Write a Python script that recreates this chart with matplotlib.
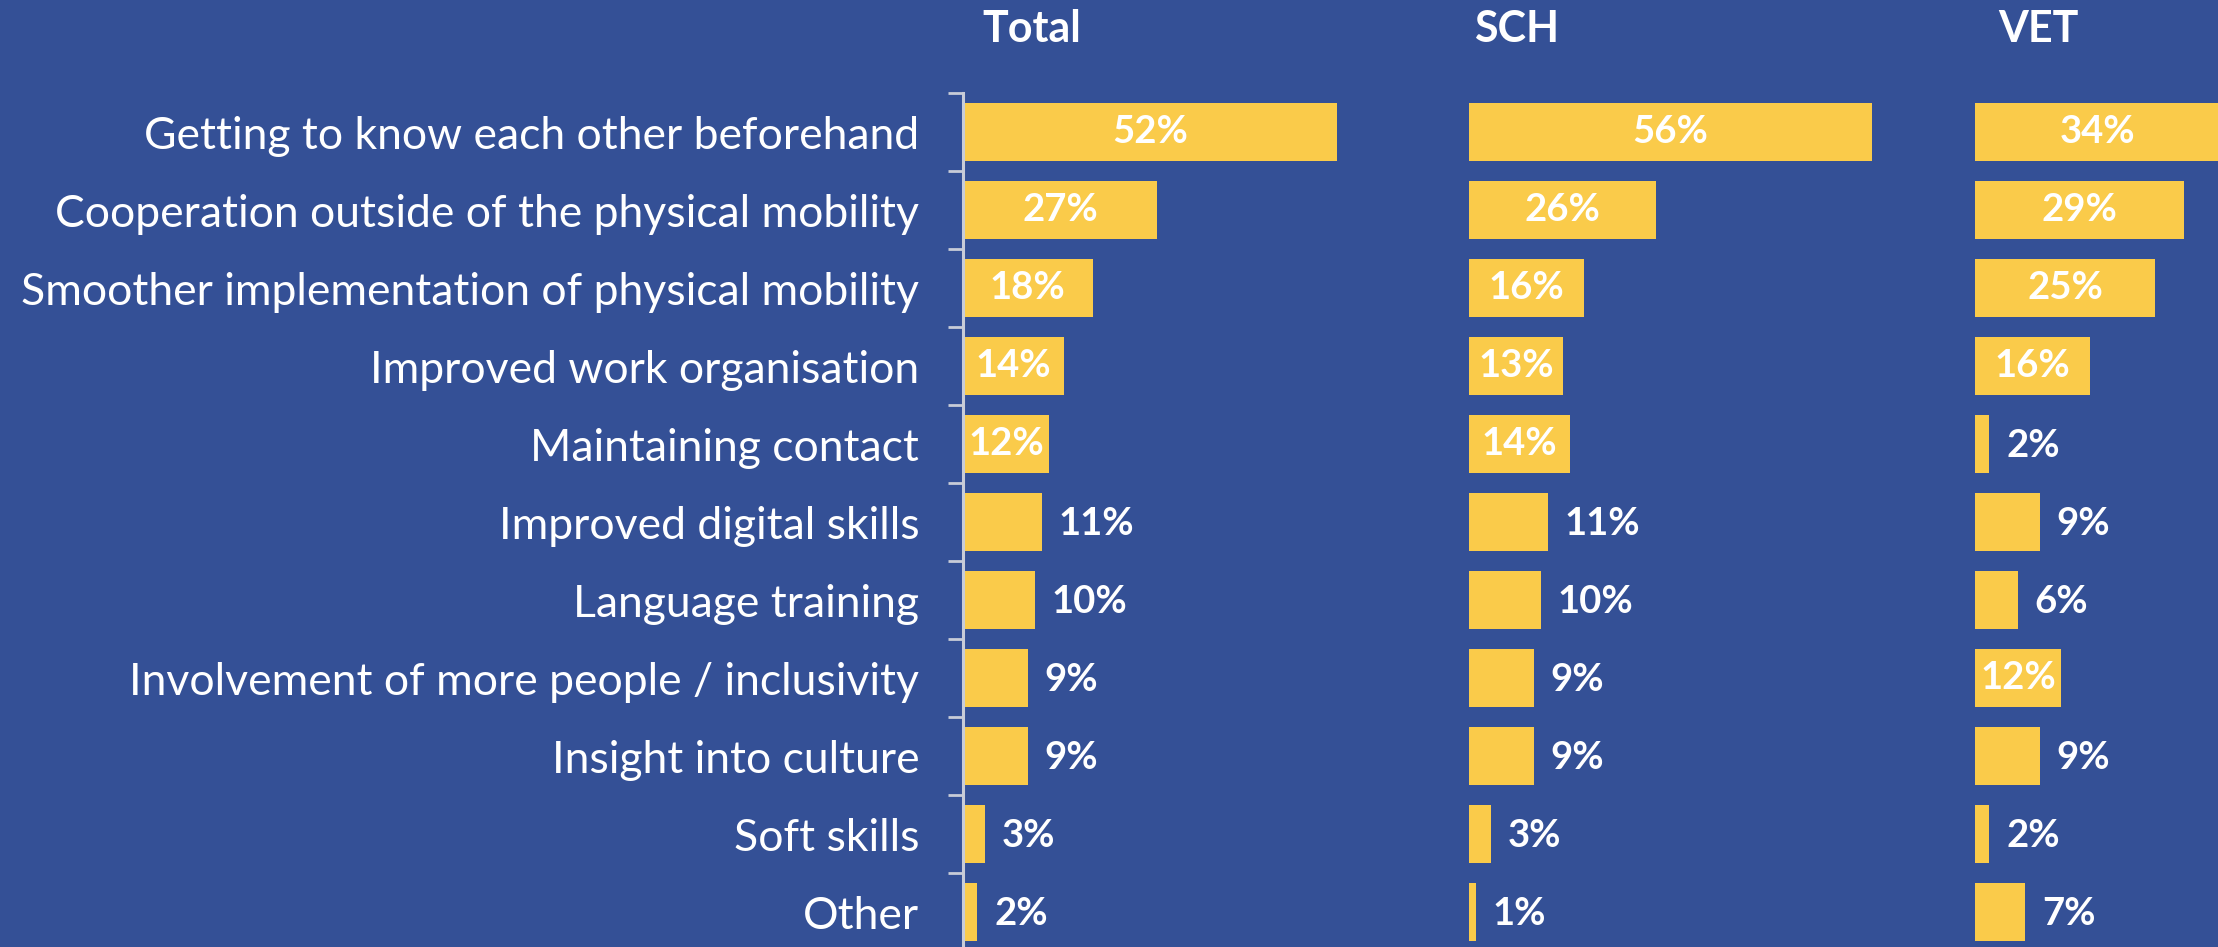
import matplotlib.pyplot as plt
import numpy as np

# Benefits of the virtual component, share of respondents per group
categories = ['Getting to know each other beforehand',
              'Cooperation outside of the physical mobility',
              'Smoother implementation of physical mobility',
              'Improved work organisation',
              'Maintaining contact',
              'Improved digital skills',
              'Language training',
              'Involvement of more people / inclusivity',
              'Insight into culture',
              'Soft skills',
              'Other']
total = [52, 27, 18, 14, 12, 11, 10, 9, 9, 3, 2]
sch = [56, 26, 16, 13, 14, 11, 10, 9, 9, 3, 1]
vet = [34, 29, 25, 16, 2, 9, 6, 12, 9, 2, 7]
groups = ['Total', 'SCH', 'VET']

bg = '#345096'
bar_color = '#FACB4A'
plt.rcParams['font.family'] = ['Lato', 'DejaVu Sans']

W, H = 2218, 947
fig = plt.figure(figsize=(W / 100, H / 100), dpi=100, facecolor=bg)

# panel left edges in pixels, 7.2 px per percent
lefts = [963, 1469, 1975]
px_per_pct = 7.2
ax_w = 490
top_px, bot_px = 93, 951

y = np.arange(len(categories))
axes = []
for i, (left, vals) in enumerate(zip(lefts, [total, sch, vet])):
    ax = fig.add_axes([left / W, 1 - bot_px / H, ax_w / W, (bot_px - top_px) / H])
    ax.set_facecolor('none')
    bars = ax.barh(y, vals, height=0.74, color=bar_color)
    ax.set_xlim(0, ax_w / px_per_pct)
    ax.set_ylim(len(categories) - 0.5, -0.5)
    ax.set_xticks([])
    for s in ['top', 'right', 'bottom']:
        ax.spines[s].set_visible(False)
    if i == 0:
        ax.spines['left'].set_color('#C8CCD8')
        ax.spines['left'].set_linewidth(2.2)
        ax.set_yticks(y)
        ax.set_yticklabels(categories, fontsize=32, color='white')
        ax.set_yticks(np.arange(len(categories) + 1) - 0.5, minor=True)
        ax.tick_params(axis='y', which='major', length=0, pad=31.5)
        ax.tick_params(axis='y', which='minor', length=11, width=2, color='#C8CCD8')
    else:
        ax.spines['left'].set_visible(False)
        ax.set_yticks([])

    # labels inside the bar when it is wide enough, otherwise outside
    for rect, v in zip(bars, vals):
        cy = rect.get_y() + rect.get_height() / 2
        if v >= 12:
            ax.text(v / 2, cy, f'{v}%', ha='center', va='center',
                    color='white', fontsize=27.5, fontweight='bold')
        else:
            ax.annotate(f'{v}%', xy=(v, cy), xytext=(12, -1.5),
                        textcoords='offset points', ha='left', va='center',
                        color='white', fontsize=27.5, fontweight='bold')
    axes.append(ax)

# group headers
header_x = [982, 1474, 1998]
for name, hx in zip(groups, header_x):
    fig.text(hx / W, 1 - 29 / H, name, ha='left', va='center',
             color='white', fontsize=31, fontweight='bold')

fig.savefig('out.png', dpi=100, facecolor=bg)
